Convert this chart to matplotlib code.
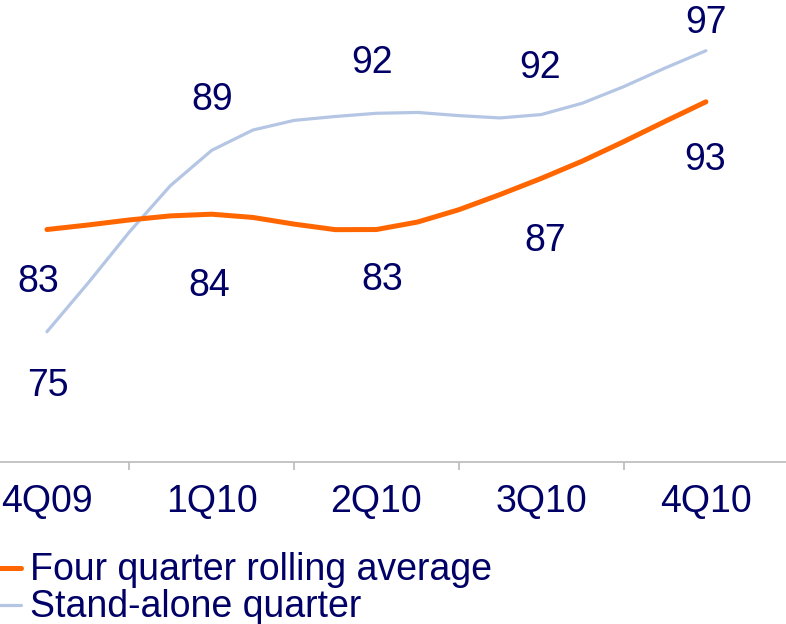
import numpy as np
import matplotlib.pyplot as plt
from matplotlib.lines import Line2D

plt.rcParams['font.family'] = ['Liberation Sans', 'DejaVu Sans']

quarters = ['4Q09', '1Q10', '2Q10', '3Q10', '4Q10']
rolling = [83, 84.2, 83, 87, 93]
standalone = [75, 89.2, 92.1, 92, 97]
rolling_labels = ['83', '84', '83', '87', '93']
standalone_labels = ['75', '89', '92', '92', '97']

ORANGE = '#FF6600'
BLUE = '#B4C6E4'
NAVY = '#000066'


def smooth(ys, steps=5):
    # catmull-rom, flattened a bit like excel's smoothed line
    ys = list(ys)
    n = len(ys)
    p = [ys[0]] + ys + [ys[-1]]
    xs_out, ys_out = [], []
    for i in range(n - 1):
        p0, p1, p2, p3 = p[i], p[i + 1], p[i + 2], p[i + 3]
        if i == 0:
            p0 = 2 * p1 - p2
        if i == n - 2:
            p3 = 2 * p2 - p1
        t = np.linspace(0, 1, steps)
        if i > 0:
            t = t[1:]
        y = 0.5 * (2 * p1 + (-p0 + p2) * t + (2 * p0 - 5 * p1 + 4 * p2 - p3) * t ** 2
                   + (-p0 + 3 * p1 - 3 * p2 + p3) * t ** 3)
        xs_out.extend(i + t)
        ys_out.extend(y)
    return np.array(xs_out), np.array(ys_out)


fig = plt.figure(figsize=(7.86, 6.24), dpi=100)
ax = fig.add_axes([0, 162 / 624, 1, 462 / 624])

x = np.arange(len(quarters))
sx, sy = smooth(standalone)
ax.plot(sx, sy, color=BLUE, lw=2.3, solid_capstyle='round', solid_joinstyle='round', zorder=2)
rx, ry = smooth(rolling)
ax.plot(rx, ry, color=ORANGE, lw=3.6, solid_capstyle='round', solid_joinstyle='round', zorder=3)

# label offsets in pixels (dx, dy)
roll_off = [(-9, -52), (-2, -72), (6, -50), (4, -63), (-1, -58)]
stand_off = [(1, -54), (0, 50), (-4, 50), (-1, 47), (0, 28)]
for i in range(len(quarters)):
    ax.annotate(rolling_labels[i], (x[i], rolling[i]), xytext=(roll_off[i][0] * 0.72, roll_off[i][1] * 0.72),
                textcoords='offset points', ha='center', va='center', fontsize=27, color=NAVY)
    ax.annotate(standalone_labels[i], (x[i], standalone[i]), xytext=(stand_off[i][0] * 0.72, stand_off[i][1] * 0.72),
                textcoords='offset points', ha='center', va='center', fontsize=27, color=NAVY)

ax.set_xlim(-0.285, 4.486)
ax.set_ylim(64.8, 100.97)

for s in ['top', 'right', 'left']:
    ax.spines[s].set_visible(False)
ax.spines['bottom'].set_color('#BFBFBF')
ax.spines['bottom'].set_linewidth(1.3)
ax.set_yticks([])
ax.set_xticks(x)
ax.set_xticklabels(quarters, fontsize=27, color=NAVY)
ax.tick_params(axis='x', which='major', length=0, pad=16)
ax.set_xticks(x[:-1] + 0.5, minor=True)
ax.tick_params(axis='x', which='minor', length=6, width=1.3, color='#BFBFBF')

# legend drawn by hand at bottom left
fig.add_artist(Line2D([0.0, 21 / 786], [1 - 568 / 624, 1 - 568 / 624], color=ORANGE, lw=3.6,
                      solid_capstyle='round'))
fig.add_artist(Line2D([0.0, 21 / 786], [1 - 605 / 624, 1 - 605 / 624], color=BLUE, lw=2.3,
                      solid_capstyle='round'))
fig.text(30 / 786, 1 - 570 / 624, 'Four quarter rolling average', fontsize=27, color=NAVY, va='center')
fig.text(30 / 786, 1 - 607 / 624, 'Stand-alone quarter', fontsize=27, color=NAVY, va='center')

fig.savefig('out.png', dpi=100)
